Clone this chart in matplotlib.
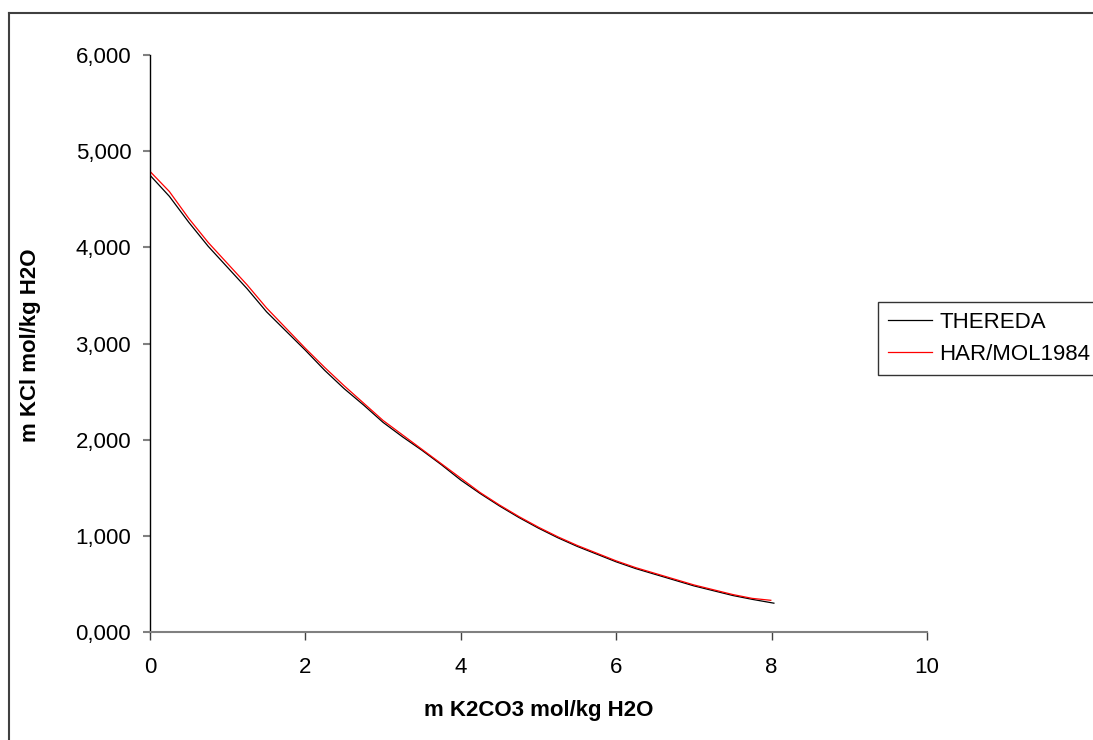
import matplotlib
matplotlib.use("Agg")
import matplotlib.pyplot as plt
from matplotlib.lines import Line2D
from matplotlib.ticker import FuncFormatter

# K2CO3 molality (x) and KCl molality (y), mol/kg H2O
x_thereda = [0, 0.25, 0.5, 0.75, 1.0, 1.25, 1.5, 1.75, 2.0, 2.25, 2.5, 2.75, 3.0,
             3.25, 3.5, 3.75, 4.0, 4.25, 4.5, 4.75, 5.0, 5.25, 5.5, 5.75, 6.0,
             6.25, 6.5, 6.75, 7.0, 7.25, 7.5, 7.75, 8.03]
y_thereda = [4.75, 4.53, 4.26, 4.01, 3.79, 3.57, 3.33, 3.13, 2.93, 2.72, 2.53, 2.36, 2.18,
             2.03, 1.89, 1.74, 1.58, 1.44, 1.31, 1.19, 1.08, 0.98, 0.89, 0.81, 0.73,
             0.66, 0.60, 0.54, 0.48, 0.43, 0.38, 0.34, 0.30]

x_harmol = [0, 0.25, 0.5, 0.75, 1.0, 1.25, 1.5, 1.75, 2.0, 2.25, 2.5, 2.75, 3.0,
            3.25, 3.5, 3.75, 4.0, 4.25, 4.5, 4.75, 5.0, 5.25, 5.5, 5.75, 6.0,
            6.25, 6.5, 6.75, 7.0, 7.25, 7.5, 7.75, 7.99]
y_harmol = [4.79, 4.58, 4.30, 4.05, 3.83, 3.61, 3.37, 3.16, 2.95, 2.75, 2.56, 2.38, 2.20,
            2.05, 1.90, 1.75, 1.60, 1.45, 1.32, 1.20, 1.09, 0.99, 0.90, 0.82, 0.74,
            0.67, 0.61, 0.55, 0.49, 0.44, 0.39, 0.35, 0.33]

plt.rcParams['font.family'] = ['Liberation Sans', 'DejaVu Sans']
fs = 16

fig = plt.figure(figsize=(10.93, 7.40), dpi=100)
ax = fig.add_axes([0.1372, 0.1459, 0.7109, 0.7798])

ax.plot(x_thereda, y_thereda, color='black', linewidth=0.9, label='THEREDA')
ax.plot(x_harmol, y_harmol, color='red', linewidth=0.9, label='HAR/MOL1984')

ax.set_xlim(0, 10)
ax.set_ylim(0, 6)
ax.set_xticks([0, 2, 4, 6, 8, 10])
ax.set_yticks([0, 1, 2, 3, 4, 5, 6])
ax.yaxis.set_major_formatter(FuncFormatter(lambda v, p: f"{v:.3f}".replace('.', ',')))

ax.spines['top'].set_visible(False)
ax.spines['right'].set_visible(False)
ax.spines['left'].set_color('black')
ax.spines['bottom'].set_color('#808080')
ax.spines['left'].set_linewidth(1.0)
ax.spines['bottom'].set_linewidth(1.5)
ax.tick_params(axis='y', direction='out', length=5, width=1.5, color='#808080',
               pad=8.5, labelsize=fs)
ax.tick_params(axis='x', direction='out', length=5.8, width=1.0, color='#404040',
               pad=12, labelsize=fs)

ax.set_xlabel('m K2CO3 mol/kg H2O', fontsize=fs, fontweight='bold')
ax.set_ylabel('m KCl mol/kg H2O', fontsize=fs, fontweight='bold')
ax.xaxis.set_label_coords(0.5, -0.118)
ax.yaxis.set_label_coords(-0.14, 0.497)

leg = ax.legend(loc='upper left', bbox_to_anchor=(878 / 1093, 1 - 302 / 740),
                bbox_transform=fig.transFigure, fontsize=fs, frameon=True,
                fancybox=False, shadow=False, edgecolor='black',
                handlelength=2.0, handletextpad=0.3, labelspacing=0.5,
                borderpad=0.45, borderaxespad=0)
leg.get_frame().set_linewidth(1.0)

# outer chart border (left and top visible)
fig.add_artist(Line2D([9 / 1093, 9 / 1093], [0, 1 - 13 / 740], transform=fig.transFigure,
                      color='#404040', linewidth=1.5))
fig.add_artist(Line2D([9 / 1093, 1], [1 - 13 / 740, 1 - 13 / 740], transform=fig.transFigure,
                      color='#404040', linewidth=1.5))

fig.savefig('out.png', dpi=100)
